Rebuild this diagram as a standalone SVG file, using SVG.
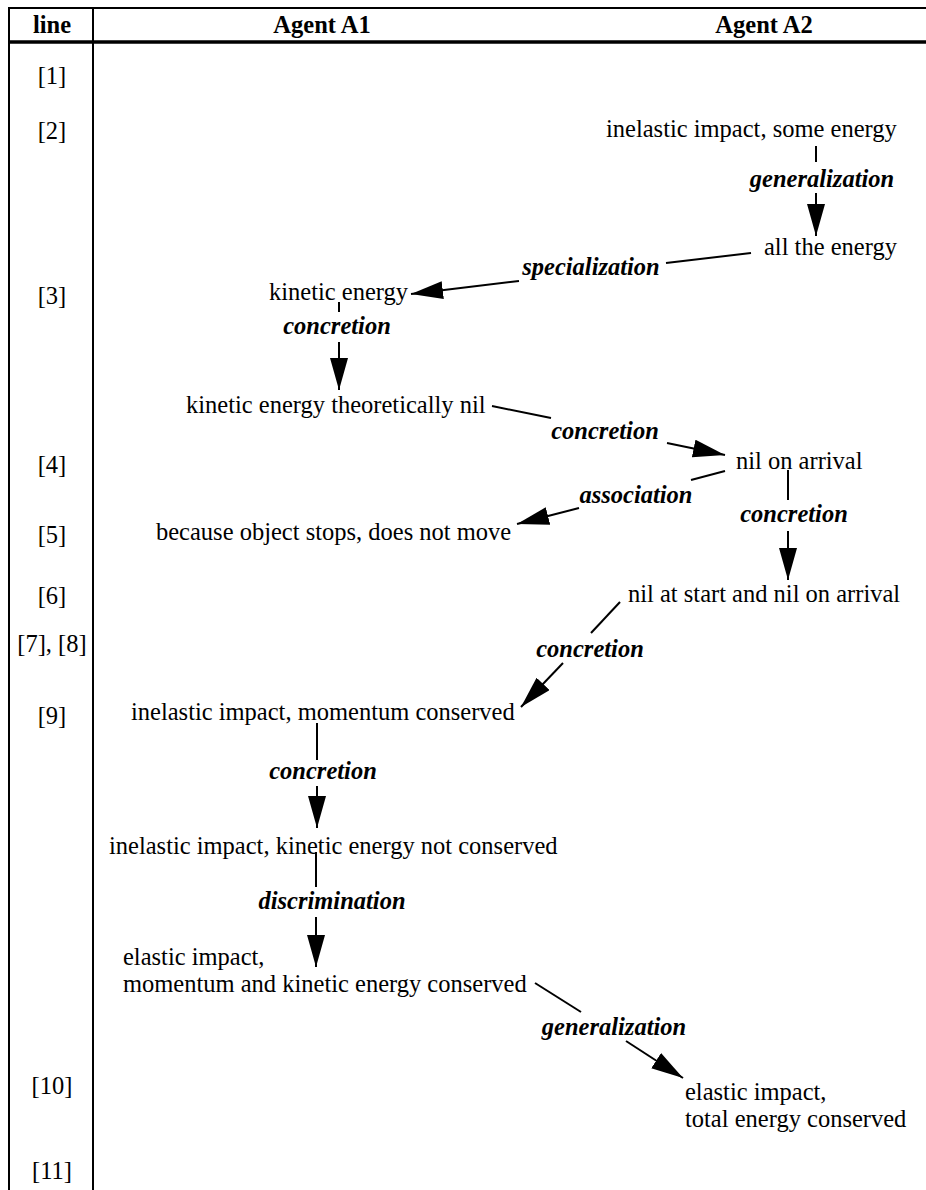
<svg xmlns="http://www.w3.org/2000/svg" width="926" height="1190" viewBox="0 0 926 1190">
<style>
  .t { font-family: "Liberation Serif", "Times New Roman", serif; font-size: 24.5px; fill: #000; }
  .h { font-family: "Liberation Serif", "Times New Roman", serif; font-size: 24.5px; font-weight: bold; fill: #000; text-anchor: middle; }
  .r { text-anchor: middle; }
  .lbl { font-family: "Liberation Serif", "Times New Roman", serif; font-size: 24.5px; font-weight: bold; font-style: italic; fill: #000; text-anchor: middle; }
  .rule { stroke: #000; stroke-width: 2; fill: none; }
  .c { stroke: #000; stroke-width: 2; fill: none; }
  .a { stroke: #000; stroke-width: 2; fill: none; marker-end: url(#arr); }
</style>
<defs>
  <marker id="arr" markerUnits="userSpaceOnUse" markerWidth="34" markerHeight="20" refX="32" refY="9" orient="auto">
    <path d="M0,0 L32,9 L0,18 z" fill="#000"/>
  </marker>
</defs>
<rect width="926" height="1190" fill="#fff"/>

<g id="table">
  <line class="rule" x1="9" y1="8" x2="926" y2="8"/>
  <line class="rule" x1="9" y1="42" x2="926" y2="42" style="stroke-width:3.5"/>
  <line class="rule" x1="9" y1="7" x2="9" y2="1190"/>
  <line class="rule" x1="93" y1="7" x2="93" y2="1190"/>
  <text class="h" x="52" y="33">line</text>
  <text class="h" x="322" y="33">Agent A1</text>
  <text class="h" x="764" y="33">Agent A2</text>
</g>

<g id="row-labels">
  <text class="t r" x="52" y="84">[1]</text>
  <text class="t r" x="52" y="139">[2]</text>
  <text class="t r" x="52" y="304">[3]</text>
  <text class="t r" x="52" y="473">[4]</text>
  <text class="t r" x="52" y="543">[5]</text>
  <text class="t r" x="52" y="604">[6]</text>
  <text class="t r" x="52" y="652">[7], [8]</text>
  <text class="t r" x="52" y="724">[9]</text>
  <text class="t r" x="52" y="1094">[10]</text>
  <text class="t r" x="52" y="1179">[11]</text>
</g>

<g id="n-some-energy"><text class="t" x="606" y="137">inelastic impact, some energy</text></g>
<g id="n-all-energy"><text class="t" x="764" y="255">all the energy</text></g>
<g id="n-kinetic"><text class="t" x="269" y="300">kinetic energy</text></g>
<g id="n-kinetic-nil"><text class="t" x="186" y="413">kinetic energy theoretically nil</text></g>
<g id="n-nil-arrival"><text class="t" x="736" y="469">nil on arrival</text></g>
<g id="n-object-stops"><text class="t" x="156" y="540">because object stops, does not move</text></g>
<g id="n-nil-start"><text class="t" x="628" y="602">nil at start and nil on arrival</text></g>
<g id="n-momentum"><text class="t" x="131" y="720">inelastic impact, momentum conserved</text></g>
<g id="n-ke-not"><text class="t" x="109" y="854">inelastic impact, kinetic energy not conserved</text></g>
<g id="n-elastic-ke"><text class="t" x="123" y="965">elastic impact,</text><text class="t" x="123" y="992">momentum and kinetic energy conserved</text></g>
<g id="n-elastic-total"><text class="t" x="685" y="1100">elastic impact,</text><text class="t" x="685" y="1127">total energy conserved</text></g>

<g id="connectors">
  <line class="c" x1="816" y1="146" x2="816" y2="162"/>
  <line class="a" x1="816" y1="193" x2="816" y2="236"/>
  <text class="lbl" x="822" y="187">generalization</text>
  <line class="c" x1="751" y1="253" x2="666" y2="263"/>
  <line class="a" x1="519" y1="281" x2="411" y2="294"/>
  <text class="lbl" x="591" y="275">specialization</text>
  <line class="c" x1="339" y1="302" x2="339" y2="312"/>
  <line class="a" x1="339" y1="342" x2="339" y2="390"/>
  <text class="lbl" x="337" y="334">concretion</text>
  <line class="c" x1="492" y1="406" x2="551" y2="418"/>
  <line class="a" x1="667" y1="443" x2="725" y2="455"/>
  <text class="lbl" x="605" y="439">concretion</text>
  <line class="c" x1="725" y1="471" x2="691" y2="480"/>
  <line class="a" x1="579" y1="508" x2="517" y2="524"/>
  <text class="lbl" x="636" y="503">association</text>
  <line class="c" x1="788" y1="470" x2="788" y2="500"/>
  <line class="a" x1="788" y1="531" x2="788" y2="580"/>
  <text class="lbl" x="794" y="522">concretion</text>
  <line class="c" x1="620" y1="602" x2="591" y2="633"/>
  <line class="a" x1="563" y1="663" x2="521" y2="707"/>
  <text class="lbl" x="590" y="657">concretion</text>
  <line class="c" x1="317" y1="723" x2="317" y2="760"/>
  <line class="a" x1="317" y1="786" x2="317" y2="828"/>
  <text class="lbl" x="323" y="779">concretion</text>
  <line class="c" x1="316" y1="852" x2="316" y2="887"/>
  <line class="a" x1="316" y1="917" x2="316" y2="967"/>
  <text class="lbl" x="332" y="909">discrimination</text>
  <line class="c" x1="535" y1="983" x2="581" y2="1012"/>
  <line class="a" x1="626" y1="1041" x2="683" y2="1078"/>
  <text class="lbl" x="614" y="1035">generalization</text>
</g>
</svg>
